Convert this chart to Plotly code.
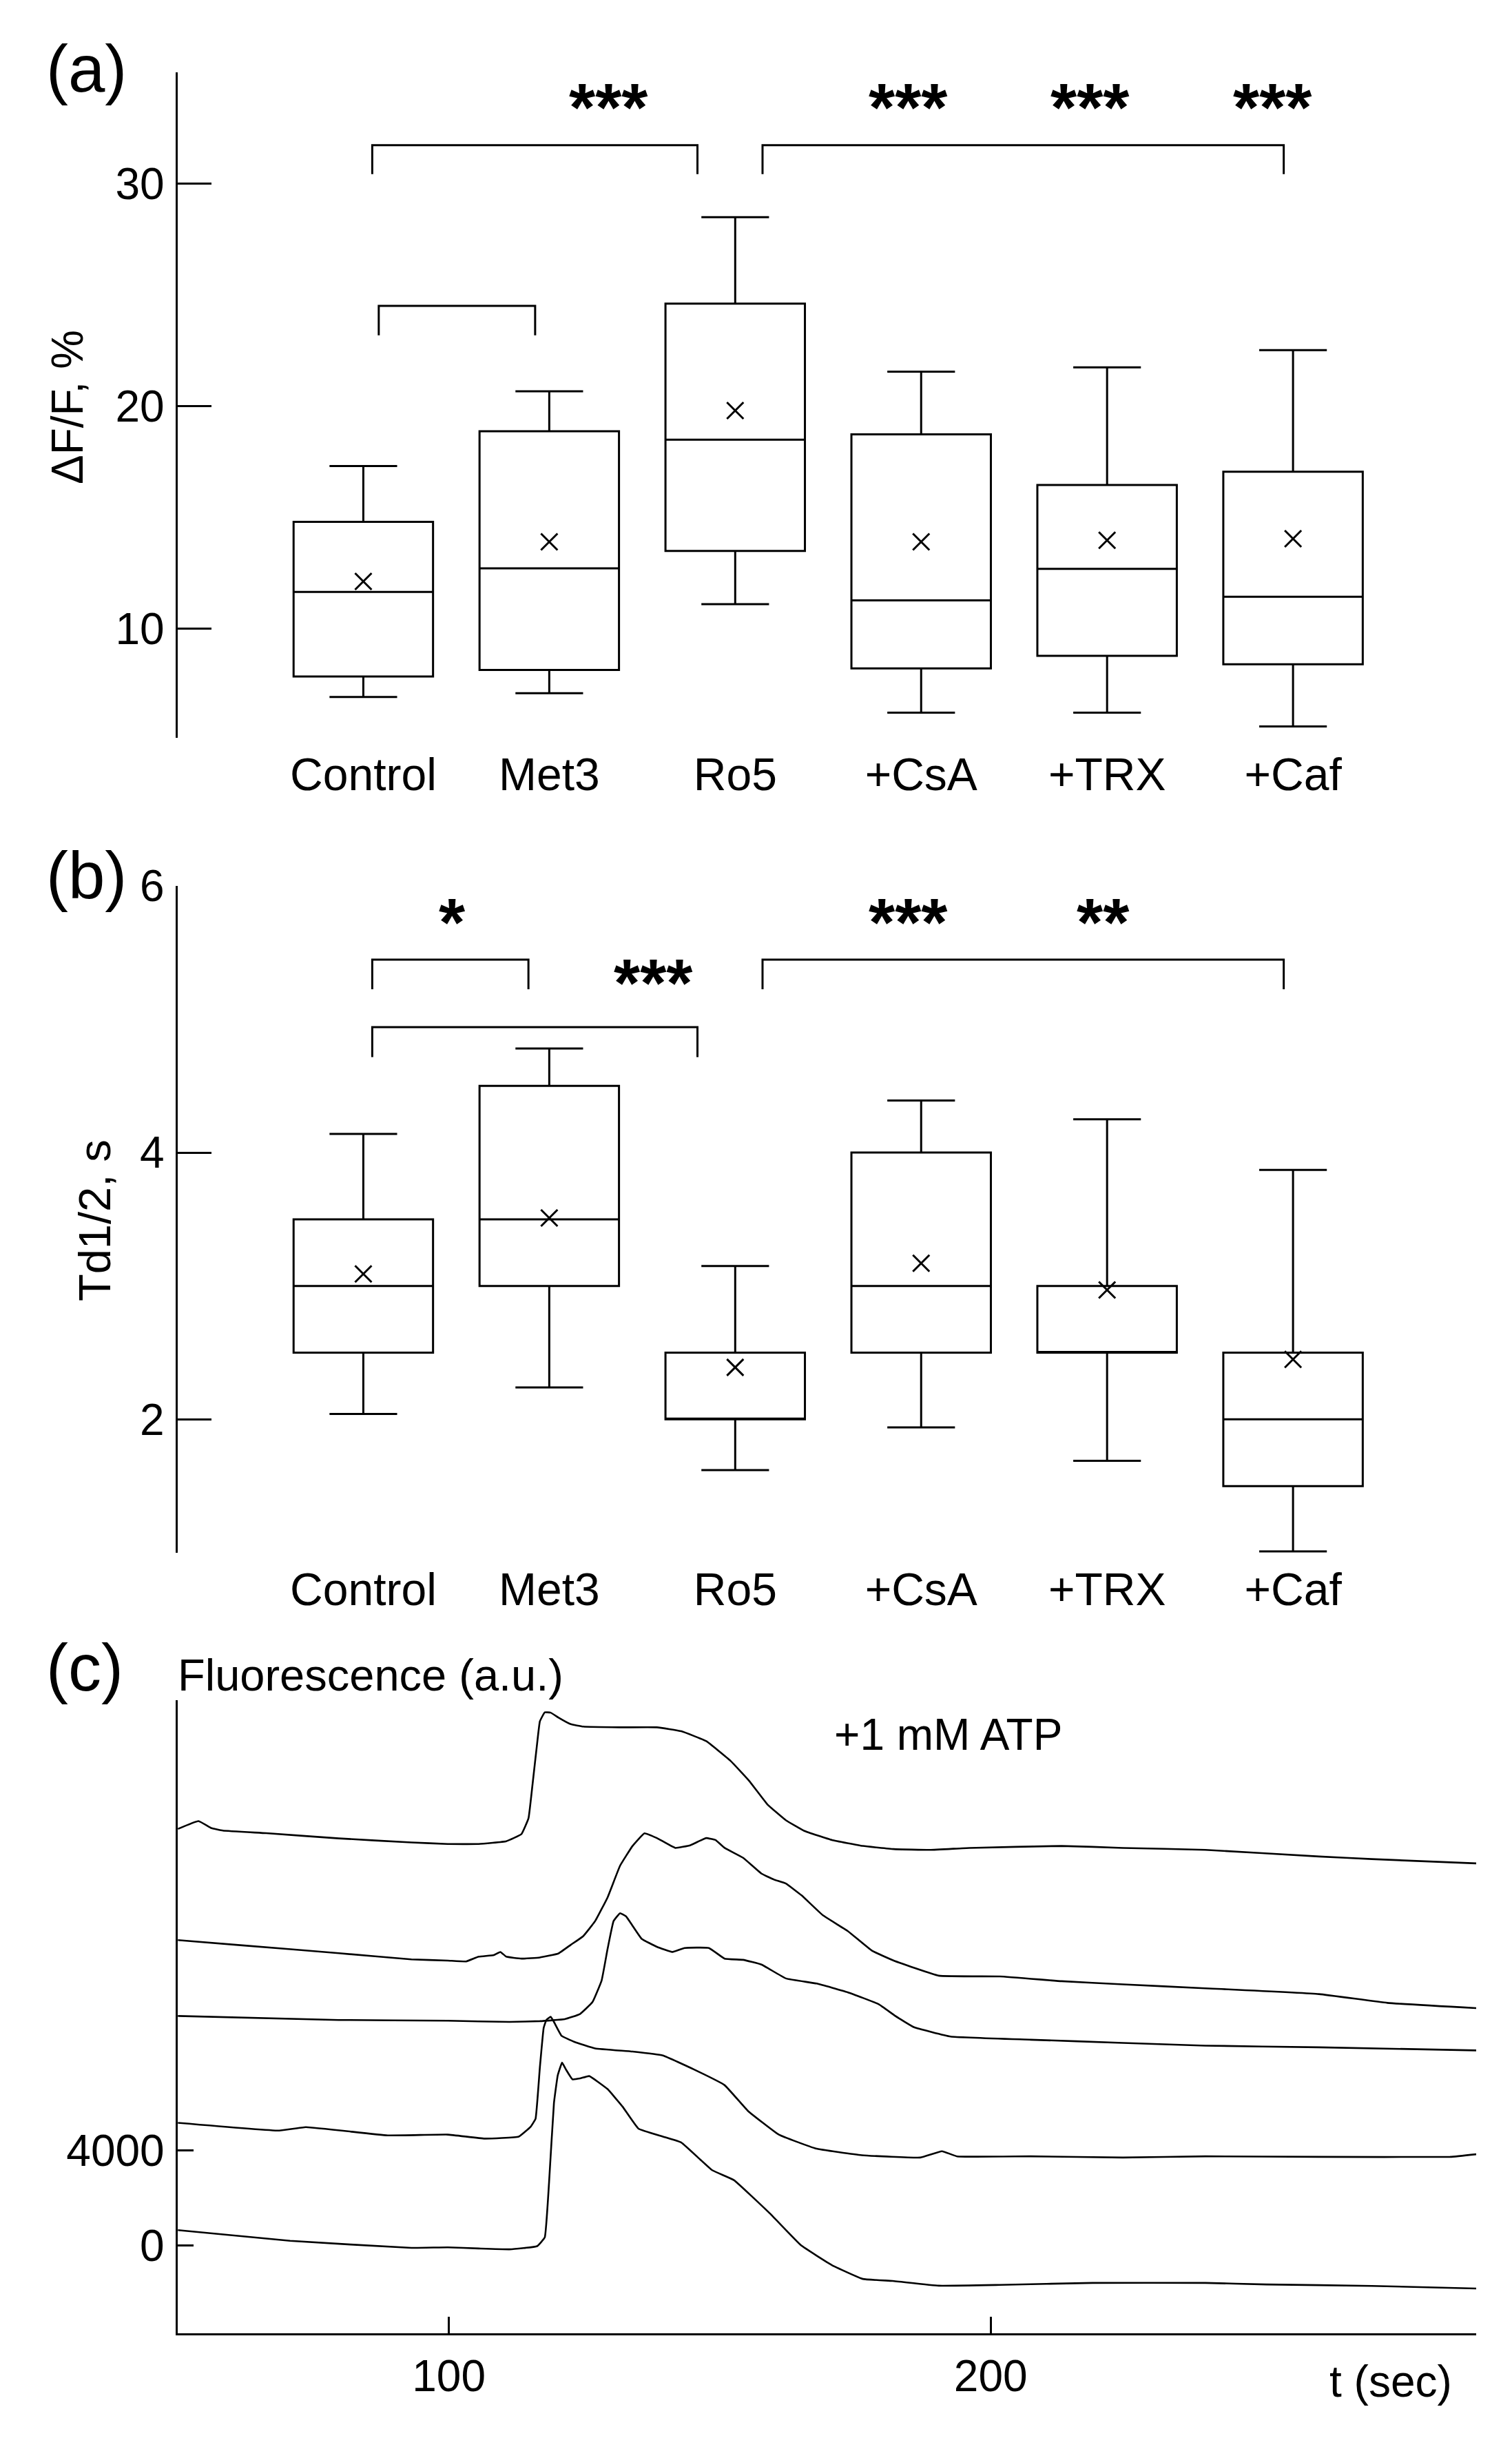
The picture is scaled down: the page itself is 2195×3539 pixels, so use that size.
import plotly.graph_objects as go

# ---------------- data ----------------
categories = ["Control", "Met3", "Ro5", "+CsA", "+TRX", "+Caf"]
positions = [0, 1, 2, 3, 4, 5]

# panel (a)  dF/F, %
a_lower = [6.92, 7.09, 11.09, 6.21, 6.21, 5.59]
a_q1 = [7.84, 8.13, 13.48, 8.20, 8.77, 8.39]
a_median = [11.64, 12.70, 18.48, 11.26, 12.68, 11.42]
a_q3 = [14.79, 18.86, 24.60, 18.72, 16.45, 17.04]
a_upper = [17.30, 20.66, 28.48, 21.54, 21.73, 22.51]
a_mean = [12.11, 13.89, 19.79, 13.89, 13.96, 14.03]

# panel (b)  Td1/2, s
b_lower = [2.04, 2.24, 1.62, 1.94, 1.69, 1.01]
b_q1 = [2.50, 3.00, 2.00, 2.50, 2.50, 1.50]
b_median = [3.00, 3.50, 2.00, 3.00, 2.50, 2.00]
b_q3 = [3.50, 4.50, 2.50, 4.00, 3.00, 2.50]
b_upper = [4.14, 4.78, 3.15, 4.39, 4.25, 3.87]
b_mean = [3.09, 3.51, 2.39, 3.17, 2.97, 2.45]

# significance brackets: (x_left, x_right, y_top, y_bottom) in category units
a_brackets = [(0.048, 1.797, 31.72, 30.42), (2.147, 4.95, 31.72, 30.42), (0.083, 0.924, 24.5, 23.17)]
a_stars = [("***", 1.32, 33.86), ("***", 2.93, 33.86), ("***", 3.91, 33.86), ("***", 4.89, 33.86)]
b_brackets = [(0.048, 0.888, 5.447, 5.224), (0.048, 1.797, 4.94, 4.716), (2.147, 4.95, 5.447, 5.224)]
b_stars = [("*", 0.477, 5.80), ("***", 1.561, 5.345), ("***", 2.93, 5.80), ("**", 3.98, 5.80)]

# panel (c) fluorescence traces (t in s, F in a.u.)
tr1_t = [50, 53.8, 56.1, 58.3, 66.3, 79.7, 93.1, 99.8, 105.5, 110.6, 113.4, 114.7, 115.4, 116.3, 116.8, 117.7,
         118.8, 120.2, 122.5, 124.8, 131.6, 138.4, 142.9, 147.5, 152.0, 155.4, 158.8, 162.2, 165.6, 170.7, 176.4,
         182.1, 188.8, 196.1, 213.1, 224.4, 239.6, 260.6, 270.3, 289.6]
tr1_f = [17540, 17870, 17580, 17470, 17360, 17140, 16970, 16906, 16906, 17023, 17322, 17988, 19319, 21149, 22065,
         22447, 22431, 22231, 21948, 21848, 21815, 21815, 21649, 21233, 20401, 19569, 18570, 17905, 17456, 17073,
         16823, 16690, 16657, 16740, 16823, 16740, 16657, 16380, 16270, 16090]

tr2_t = [50, 61.9, 79.7, 93.1, 99.8, 103.2, 105.5, 108.3, 109.5, 110.6, 113.4, 116.8, 120.2, 122.5, 124.8, 127.0,
         129.3, 131.6, 133.9, 136.1, 138.4, 141.8, 144.6, 147.5, 149.2, 150.9, 154.3, 157.7, 160.0, 162.2, 165.1,
         169.0, 173.6, 178.1, 182.1, 190.4, 201.7, 213.1, 224.4, 239.6, 260.6, 273.2, 289.6]
tr2_f = [12860, 12640, 12310, 12050, 11998, 11964, 12164, 12230, 12363, 12164, 12081, 12131, 12297, 12663, 13029,
         13661, 14660, 15991, 16823, 17356, 17156, 16740, 16857, 17156, 17073, 16740, 16324, 15658, 15409, 15242,
         14743, 13911, 13245, 12413, 11998, 11365, 11332, 11132, 10999, 10833, 10590, 10220, 10000]

tr3_t = [50, 79.7, 99.8, 111.2, 116.8, 121.4, 124.2, 126.5, 128.2, 129.3, 130.4, 131.6, 132.7, 135.6, 138.4, 141.2,
         143.5, 148.0, 150.9, 154.3, 157.7, 162.2, 167.9, 173.6, 179.3, 182.4, 185.8, 192.6, 207.4, 224.4, 239.6,
         260.6, 289.6]
tr3_f = [9670, 9500, 9468, 9418, 9450, 9535, 9751, 10250, 11165, 12496, 13661, 13994, 13861, 12912, 12580, 12363,
         12530, 12530, 12081, 12031, 11831, 11249, 11032, 10666, 10167, 9668, 9202, 8803, 8670, 8536, 8420,
         8350, 8220]

tr4_t = [50, 68.7, 73.6, 88.7, 99.8, 106.6, 112.9, 115.1, 116.0, 116.8, 117.5, 118.0, 118.8, 119.4, 120.8, 123.1,
         127.0, 133.9, 139.5, 145.2, 150.9, 155.2, 160.9, 167.7, 176.2, 187.0, 191.0, 193.8, 207.4, 224.4, 239.6,
         260.6, 284.8, 289.6]
tr4_f = [5172, 4844, 4992, 4644, 4676, 4509, 4593, 5009, 5341, 7505, 9168, 9501, 9635, 9418, 8836, 8586,
         8303, 8170, 8004, 7421, 6756, 5674, 4676, 4094, 3811, 3711, 3977, 3761, 3761, 3711, 3761,
         3740, 3740, 3850]

tr5_t = [50, 70.7, 93.1, 99.8, 105.5, 111.2, 116.3, 117.7, 118.5, 119.4, 120.1, 120.9, 121.6, 122.8, 124.2, 125.9,
         129.3, 132.1, 135.0, 139.5, 142.9, 148.6, 152.6, 159.3, 165.0, 170.7, 176.4, 181.9, 190.4, 201.7, 218.8,
         239.6, 250.9, 270.3, 289.6]
tr5_f = [658, 209, -90, -66, -116, -150, -17, 350, 2679, 6007, 7172, 7704, 7421, 7005, 7039, 7139,
         6590, 5841, 4926, 4593, 4343, 3178, 2763, 1348, 17, -816, -1398, -1481, -1681, -1647, -1564,
         -1564, -1630, -1690, -1800]

FONT = "Liberation Sans, Arial, sans-serif"
LW = 3
W, H = 2195, 3539

fig = go.Figure()


def add_panel(xa, ya, lower, q1, med, q3, upper, mean, brackets, stars):
    fig.add_trace(go.Box(x=positions, lowerfence=lower, q1=q1, median=med, q3=q3, upperfence=upper,
                         xaxis=xa, yaxis=ya, width=0.75, whiskerwidth=0.485, fillcolor="white",
                         line=dict(color="black", width=LW), boxpoints=False, hoverinfo="skip"))
    fig.add_trace(go.Scatter(x=positions, y=mean, mode="markers", xaxis=xa, yaxis=ya,
                             marker=dict(symbol="x-thin", size=24, color="black",
                                         line=dict(width=3, color="black"))))
    for (x0, x1, yt, yb) in brackets:
        fig.add_trace(go.Scatter(x=[x0, x0, x1, x1], y=[yb, yt, yt, yb], mode="lines", xaxis=xa, yaxis=ya,
                                 line=dict(color="black", width=LW), cliponaxis=False))
    for (txt, x, y) in stars:
        fig.add_annotation(text="<b>%s</b>" % txt, x=x, y=y, xref=xa, yref=ya, showarrow=False,
                           yshift=-14, font=dict(family=FONT, size=98, color="black"))


add_panel("x", "y", a_lower, a_q1, a_median, a_q3, a_upper, a_mean, a_brackets, a_stars)
add_panel("x2", "y2", b_lower, b_q1, b_median, b_q3, b_upper, b_mean, b_brackets, b_stars)

for t, f in [(tr1_t, tr1_f), (tr2_t, tr2_f), (tr3_t, tr3_f), (tr4_t, tr4_f), (tr5_t, tr5_f)]:
    fig.add_trace(go.Scatter(x=t, y=f, mode="lines", xaxis="x3", yaxis="y3",
                             line=dict(color="black", width=2.6, shape="spline", smoothing=0.3)))

xdom = [257.5 / W, 2143 / W]
cat_x = dict(domain=xdom, range=[-1, 5.985], showline=False, showgrid=False, zeroline=False, automargin=False,
             tickvals=positions, ticktext=categories, ticks="", ticklabelstandoff=9,
             tickfont=dict(family=FONT, size=66, color="black"))


def yax(domain, rng, tickvals, ticklen):
    return dict(domain=domain, range=rng, showline=True, linecolor="black", linewidth=LW, showgrid=False,
                zeroline=False, tickvals=tickvals, ticks="inside", ticklen=ticklen, tickwidth=LW, automargin=False,
                tickcolor="black", ticklabelstandoff=3, tickfont=dict(family=FONT, size=64, color="black"))


def ydom(top_px, bottom_px):
    return [1 - bottom_px / H, 1 - top_px / H]


fig.update_layout(
    width=W, height=H, margin=dict(l=0, r=0, t=0, b=0, pad=0, autoexpand=False), showlegend=False,
    plot_bgcolor="white", paper_bgcolor="white", font=dict(family=FONT, size=64, color="black"),
    xaxis=dict(cat_x, anchor="y"),
    yaxis=dict(yax(ydom(104.8, 1071.4), [5.07, 35.0], [10, 20, 30], 49), anchor="x"),
    xaxis2=dict(cat_x, anchor="y2"),
    yaxis2=dict(yax(ydom(1285.8, 2254), [1.0, 6.0], [2, 4, 6], 49), anchor="x2"),
    xaxis3=dict(domain=xdom, anchor="y3", range=[49.9, 289.6], showline=True, linecolor="black",
                linewidth=LW, showgrid=False, zeroline=False, tickvals=[100, 200], ticks="inside",
                ticklen=24, tickwidth=LW, tickcolor="black", ticklabelstandoff=4, automargin=False,
                tickfont=dict(family=FONT, size=64, color="black")),
    yaxis3=dict(yax(ydom(2467.5, 3387.3), [-3693, 22971], [0, 4000], 23), anchor="x3"),
)

ann = [
    ("(a)", 125, 100, 96, "center", 0), ("(b)", 125, 1270, 96, "center", 0), ("(c)", 123, 2420, 96, "center", 0),
    ("ΔF/F, %", 98, 591, 64, "center", -90), ("Td1/2, s", 137, 1772, 65, "center", -90),
    ("Fluorescence (a.u.)", 256, 2431, 65, "left", 0), ("+1 mM ATP", 1376, 2518, 64, "center", 0),
    ("t (sec)", 2019, 3457, 64, "center", 0),
]
for txt, px, py, size, xanc, ang in ann:
    fig.add_annotation(text=txt, x=px / W, y=1 - py / H, xref="paper", yref="paper", showarrow=False,
                       xanchor=xanc, yanchor="middle", textangle=ang,
                       font=dict(family=FONT, size=size, color="black"))

fig.write_html("out.html", config={"displayModeBar": False},
               post_script="document.body.style.margin='0px';")
